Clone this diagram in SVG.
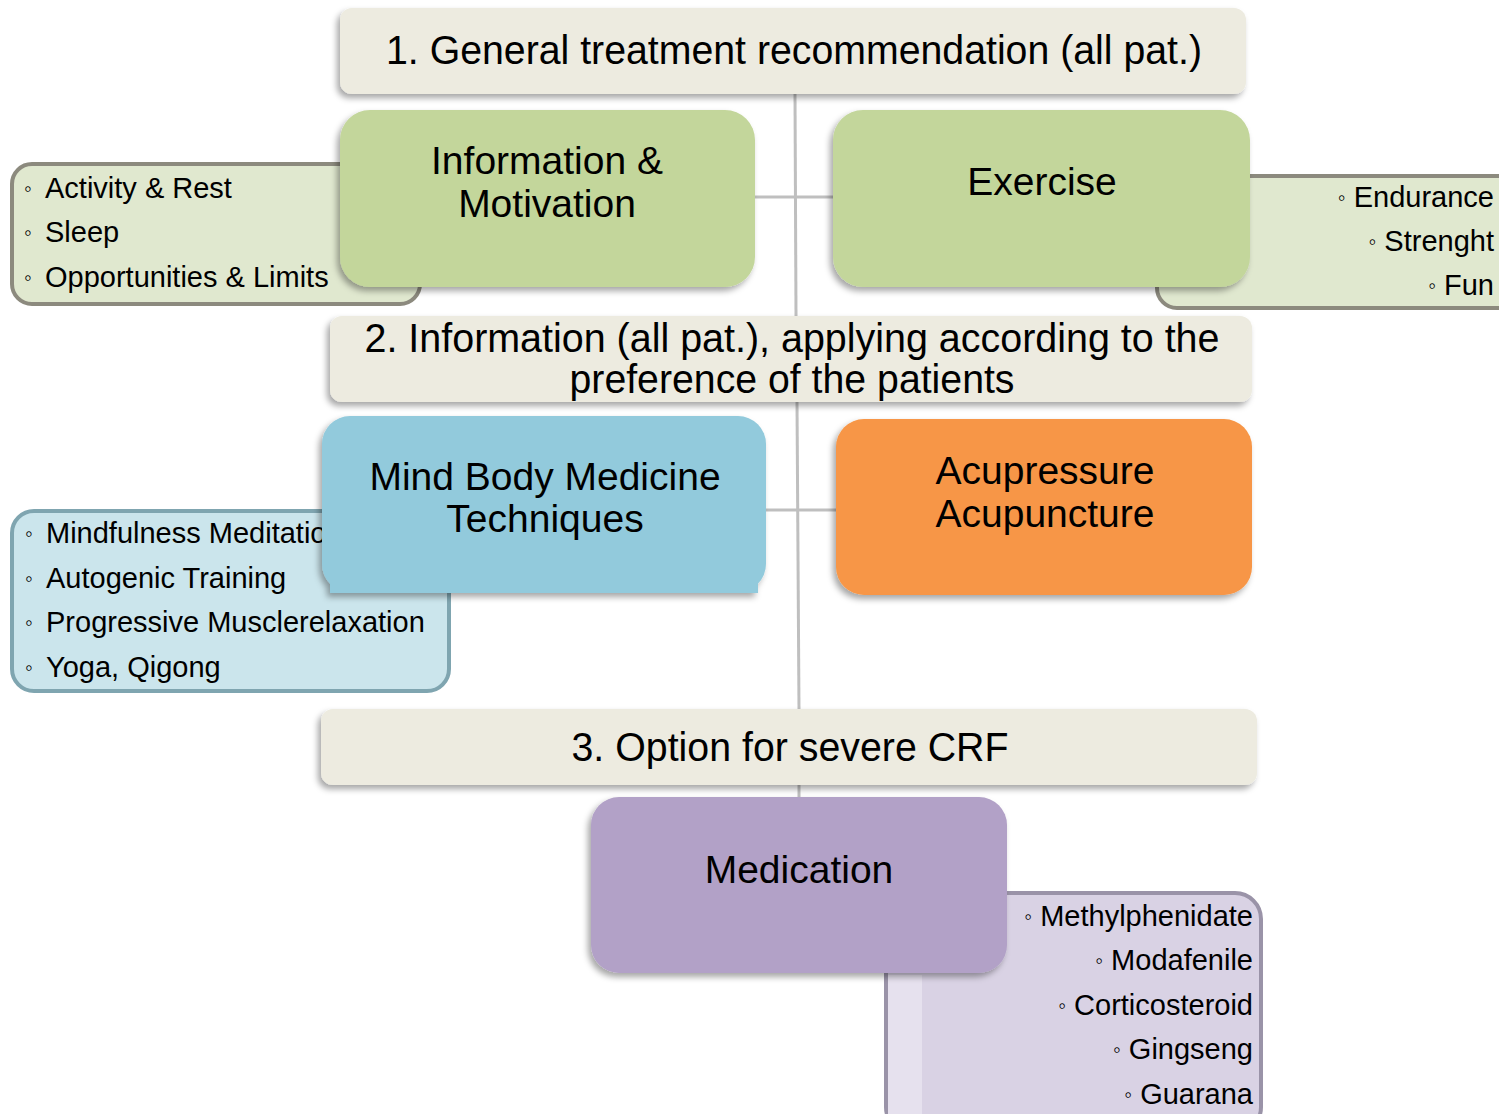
<svg xmlns="http://www.w3.org/2000/svg" width="1499" height="1114" viewBox="0 0 1499 1114">
<defs>
<filter id="sh" x="-10%" y="-10%" width="120%" height="130%">
<feDropShadow dx="-3" dy="4" stdDeviation="3" flood-color="#000" flood-opacity="0.35"/>
</filter>
<style>
text{font-family:"Liberation Sans",Arial,sans-serif;fill:#000}
.hdr{fill:#EDEBE0}
.node{font-size:39px;text-anchor:middle}
.htxt{font-size:40px;text-anchor:middle}
.item{font-size:29px}
.b{font-size:22px}
.end{text-anchor:end}
.conn{stroke:#BFBFBF;stroke-width:3;fill:none}
</style>
</defs>
<rect width="1499" height="1114" fill="#fff"/>

<g id="connectors">
<line class="conn" x1="795" y1="94" x2="796" y2="316"/>
<line class="conn" x1="797" y1="402" x2="799" y2="709"/>
<line class="conn" x1="799" y1="785" x2="799" y2="797"/>
<line class="conn" x1="755" y1="197" x2="833" y2="197"/>
<line class="conn" x1="766" y1="510" x2="836" y2="510"/>
</g>

<g id="list-info">
<rect x="12" y="164" width="408" height="140" rx="20" fill="#E0E8CF" stroke="#8C8A7E" stroke-width="4"/>
<text class="item"><tspan class="b" x="24" y="196">◦</tspan><tspan x="45" y="198">Activity &amp; Rest</tspan></text>
<text class="item"><tspan class="b" x="24" y="240">◦</tspan><tspan x="45" y="242">Sleep</tspan></text>
<text class="item"><tspan class="b" x="24" y="285">◦</tspan><tspan x="45" y="287">Opportunities &amp; Limits</tspan></text>
</g>

<g id="list-exercise">
<rect x="1157" y="176" width="360" height="132" rx="20" fill="#E0E8CF" stroke="#8C8A7E" stroke-width="4"/>
<text class="item end" x="1494" y="207"><tspan class="b" dy="-2">◦</tspan><tspan dy="2"> Endurance</tspan></text>
<text class="item end" x="1494" y="251"><tspan class="b" dy="-2">◦</tspan><tspan dy="2"> Strenght</tspan></text>
<text class="item end" x="1494" y="295"><tspan class="b" dy="-2">◦</tspan><tspan dy="2"> Fun</tspan></text>
</g>

<g id="list-mindbody">
<rect x="12" y="511" width="437" height="180" rx="22" fill="#CBE5EC" stroke="#7FA5B0" stroke-width="4"/>
<text class="item"><tspan class="b" x="25" y="541">◦</tspan><tspan x="46" y="543">Mindfulness Meditation</tspan></text>
<text class="item"><tspan class="b" x="25" y="586">◦</tspan><tspan x="46" y="588">Autogenic Training</tspan></text>
<text class="item"><tspan class="b" x="25" y="630">◦</tspan><tspan x="46" y="632">Progressive Musclerelaxation</tspan></text>
<text class="item"><tspan class="b" x="25" y="675">◦</tspan><tspan x="46" y="677">Yoga, Qigong</tspan></text>
</g>

<g id="list-medication">
<rect x="886" y="893" width="375" height="240" rx="26" fill="#D9D2E4" stroke="#9A93A8" stroke-width="4"/>
<rect x="888" y="975" width="34" height="139" fill="#E6E1EE"/>
<text class="item end" x="1253" y="926"><tspan class="b" dy="-2">◦</tspan><tspan dy="2"> Methylphenidate</tspan></text>
<text class="item end" x="1253" y="970"><tspan class="b" dy="-2">◦</tspan><tspan dy="2"> Modafenile</tspan></text>
<text class="item end" x="1253" y="1015"><tspan class="b" dy="-2">◦</tspan><tspan dy="2"> Corticosteroid</tspan></text>
<text class="item end" x="1253" y="1059"><tspan class="b" dy="-2">◦</tspan><tspan dy="2"> Gingseng</tspan></text>
<text class="item end" x="1253" y="1104"><tspan class="b" dy="-2">◦</tspan><tspan dy="2"> Guarana</tspan></text>
</g>

<g id="header1">
<rect class="hdr" x="340" y="8" width="906" height="86" rx="12" filter="url(#sh)"/>
<text class="htxt" x="794" y="64" textLength="816" lengthAdjust="spacingAndGlyphs">1. General treatment recommendation (all pat.)</text>
</g>

<g id="info-motivation">
<rect x="340" y="110" width="415" height="177" rx="30" fill="#C3D69B" filter="url(#sh)"/>
<text class="node" x="547" y="174">Information &amp;</text>
<text class="node" x="547" y="217">Motivation</text>
</g>

<g id="exercise">
<rect x="833" y="110" width="417" height="177" rx="30" fill="#C3D69B" filter="url(#sh)"/>
<text class="node" x="1042" y="195">Exercise</text>
</g>

<g id="header2">
<rect class="hdr" x="330" y="316" width="922" height="86" rx="12" filter="url(#sh)"/>
<text class="htxt" x="792" y="352" textLength="855" lengthAdjust="spacingAndGlyphs">2. Information (all pat.), applying according to the</text>
<text class="htxt" x="792" y="393" textLength="445" lengthAdjust="spacingAndGlyphs">preference of the patients</text>
</g>

<g id="mind-body">
<g filter="url(#sh)">
<rect x="322" y="416" width="444" height="176" rx="28" fill="#92CADC"/>
<rect x="330" y="565" width="428" height="28" fill="#92CADC"/>
</g>
<text class="node" x="545" y="490">Mind Body Medicine</text>
<text class="node" x="545" y="532">Techniques</text>
</g>

<g id="acupressure">
<rect x="836" y="419" width="416" height="176" rx="28" fill="#F79646" filter="url(#sh)"/>
<text class="node" x="1045" y="484">Acupressure</text>
<text class="node" x="1045" y="527">Acupuncture</text>
</g>

<g id="header3">
<rect class="hdr" x="321" y="709" width="936" height="76" rx="12" filter="url(#sh)"/>
<text class="htxt" x="790" y="761" textLength="437" lengthAdjust="spacingAndGlyphs">3. Option for severe CRF</text>
</g>

<g id="medication">
<rect x="591" y="797" width="416" height="176" rx="28" fill="#B2A1C7" filter="url(#sh)"/>
<text class="node" x="799" y="883">Medication</text>
</g>
</svg>
